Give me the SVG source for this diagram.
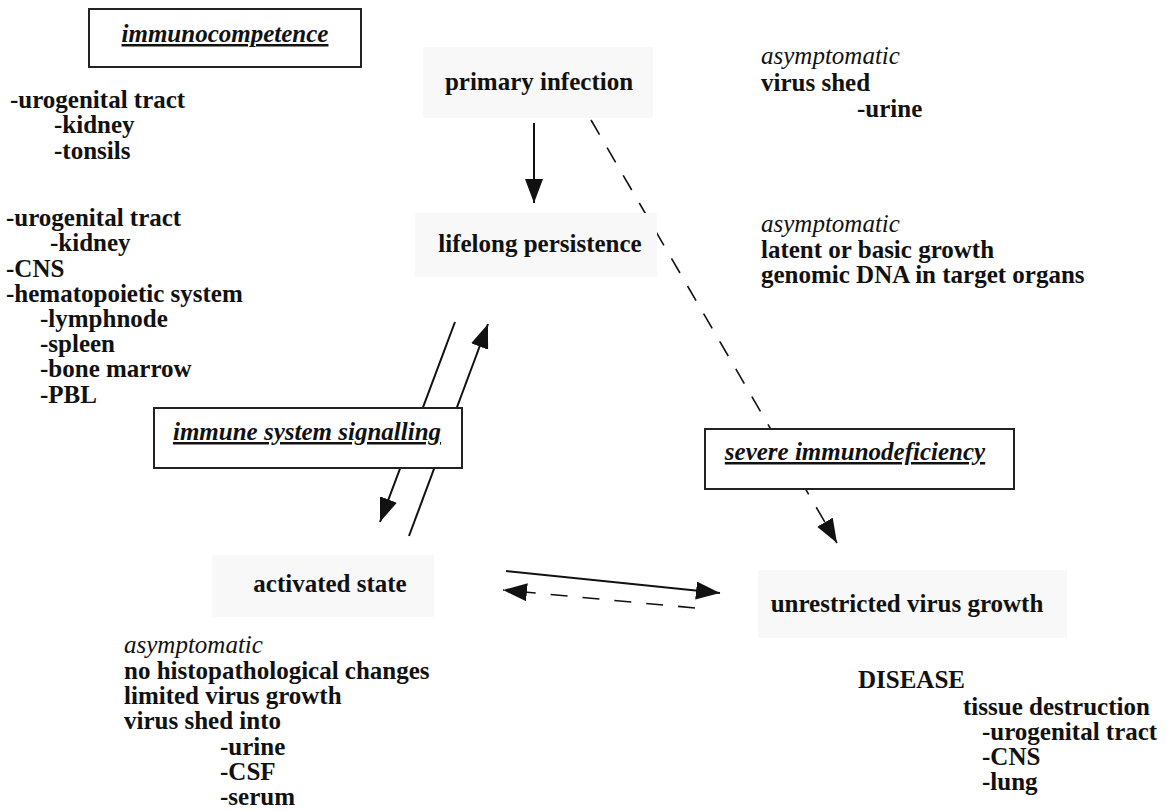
<svg xmlns="http://www.w3.org/2000/svg" width="1173" height="811" viewBox="0 0 1173 811">
<style>
text{font-family:"Liberation Serif","Times New Roman",serif;font-size:25px;font-weight:bold;fill:#111}
.it{font-style:italic;font-weight:normal}
.lab{font-style:italic;font-weight:bold;text-decoration:underline}
.mid{text-anchor:middle}
.box{fill:#fff;stroke:#222;stroke-width:2}
.shade{fill:#f8f8f8;stroke:none}
.ln{fill:none;stroke:#111;stroke-width:2}
.dash{fill:none;stroke:#111;stroke-width:1.6;stroke-dasharray:17 15}
</style>
<defs>
<marker id="ah" markerUnits="userSpaceOnUse" markerWidth="26" markerHeight="20" refX="24" refY="9" orient="auto">
<path d="M0,0 L24,9 L0,18 Z" fill="#111"/>
</marker>
</defs>
<rect width="1173" height="811" fill="#fff"/>

<g id="connectors">
<line class="ln" x1="534" y1="123" x2="534" y2="203" marker-end="url(#ah)"/>
<line class="dash" x1="591" y1="120" x2="837" y2="543" marker-end="url(#ah)"/>
<line class="ln" x1="455" y1="322" x2="380" y2="522" marker-end="url(#ah)"/>
<line class="ln" x1="409" y1="536" x2="488" y2="324" marker-end="url(#ah)"/>
<line class="ln" x1="506" y1="571" x2="720" y2="593" marker-end="url(#ah)"/>
<line class="dash" x1="695" y1="608" x2="503" y2="590" marker-end="url(#ah)"/>
</g>

<g id="primary-infection">
<rect class="shade" x="423" y="47" width="230" height="71"/>
<text class="mid" x="539" y="90">primary infection</text>
</g>
<g id="lifelong-persistence">
<rect class="shade" x="415" y="213" width="242" height="64"/>
<text class="mid" x="540" y="252">lifelong persistence</text>
</g>
<g id="activated-state">
<rect class="shade" x="212" y="555" width="222" height="62"/>
<text class="mid" x="330" y="592">activated state</text>
</g>
<g id="unrestricted-virus-growth">
<rect class="shade" x="758" y="570" width="309" height="68"/>
<text class="mid" x="907" y="612">unrestricted virus growth</text>
</g>

<g id="immunocompetence">
<rect class="box" x="89" y="9" width="272" height="58"/>
<text class="lab mid" x="225" y="42">immunocompetence</text>
</g>
<g id="immune-system-signalling">
<rect class="box" x="154" y="408" width="308" height="60"/>
<text class="lab mid" x="307" y="440">immune system signalling</text>
</g>
<g id="severe-immunodeficiency">
<rect class="box" x="705" y="429" width="309" height="60"/>
<text class="lab mid" x="855" y="460">severe immunodeficiency</text>
</g>

<g id="notes-left-top">
<text x="10" y="108">-urogenital tract</text>
<text x="54" y="133">-kidney</text>
<text x="54" y="159">-tonsils</text>
</g>
<g id="notes-left-mid">
<text x="6" y="226">-urogenital tract</text>
<text x="50" y="251">-kidney</text>
<text x="6" y="277">-CNS</text>
<text x="6" y="302">-hematopoietic system</text>
<text x="40" y="327">-lymphnode</text>
<text x="40" y="352">-spleen</text>
<text x="40" y="377">-bone marrow</text>
<text x="40" y="403">-PBL</text>
</g>
<g id="notes-right-top">
<text class="it" x="761" y="64">asymptomatic</text>
<text x="761" y="91">virus shed</text>
<text x="857" y="117">-urine</text>
</g>
<g id="notes-right-mid">
<text class="it" x="761" y="232">asymptomatic</text>
<text x="761" y="258">latent or basic growth</text>
<text x="761" y="283">genomic DNA in target organs</text>
</g>
<g id="notes-bottom-left">
<text class="it" x="124" y="653">asymptomatic</text>
<text x="124" y="679">no histopathological changes</text>
<text x="124" y="704">limited virus growth</text>
<text x="124" y="729">virus shed into</text>
<text x="220" y="755">-urine</text>
<text x="220" y="780">-CSF</text>
<text x="220" y="805">-serum</text>
</g>
<g id="notes-bottom-right">
<text x="858" y="688">DISEASE</text>
<text x="963" y="715">tissue destruction</text>
<text x="982" y="740">-urogenital tract</text>
<text x="982" y="765">-CNS</text>
<text x="982" y="790">-lung</text>
</g>
</svg>
